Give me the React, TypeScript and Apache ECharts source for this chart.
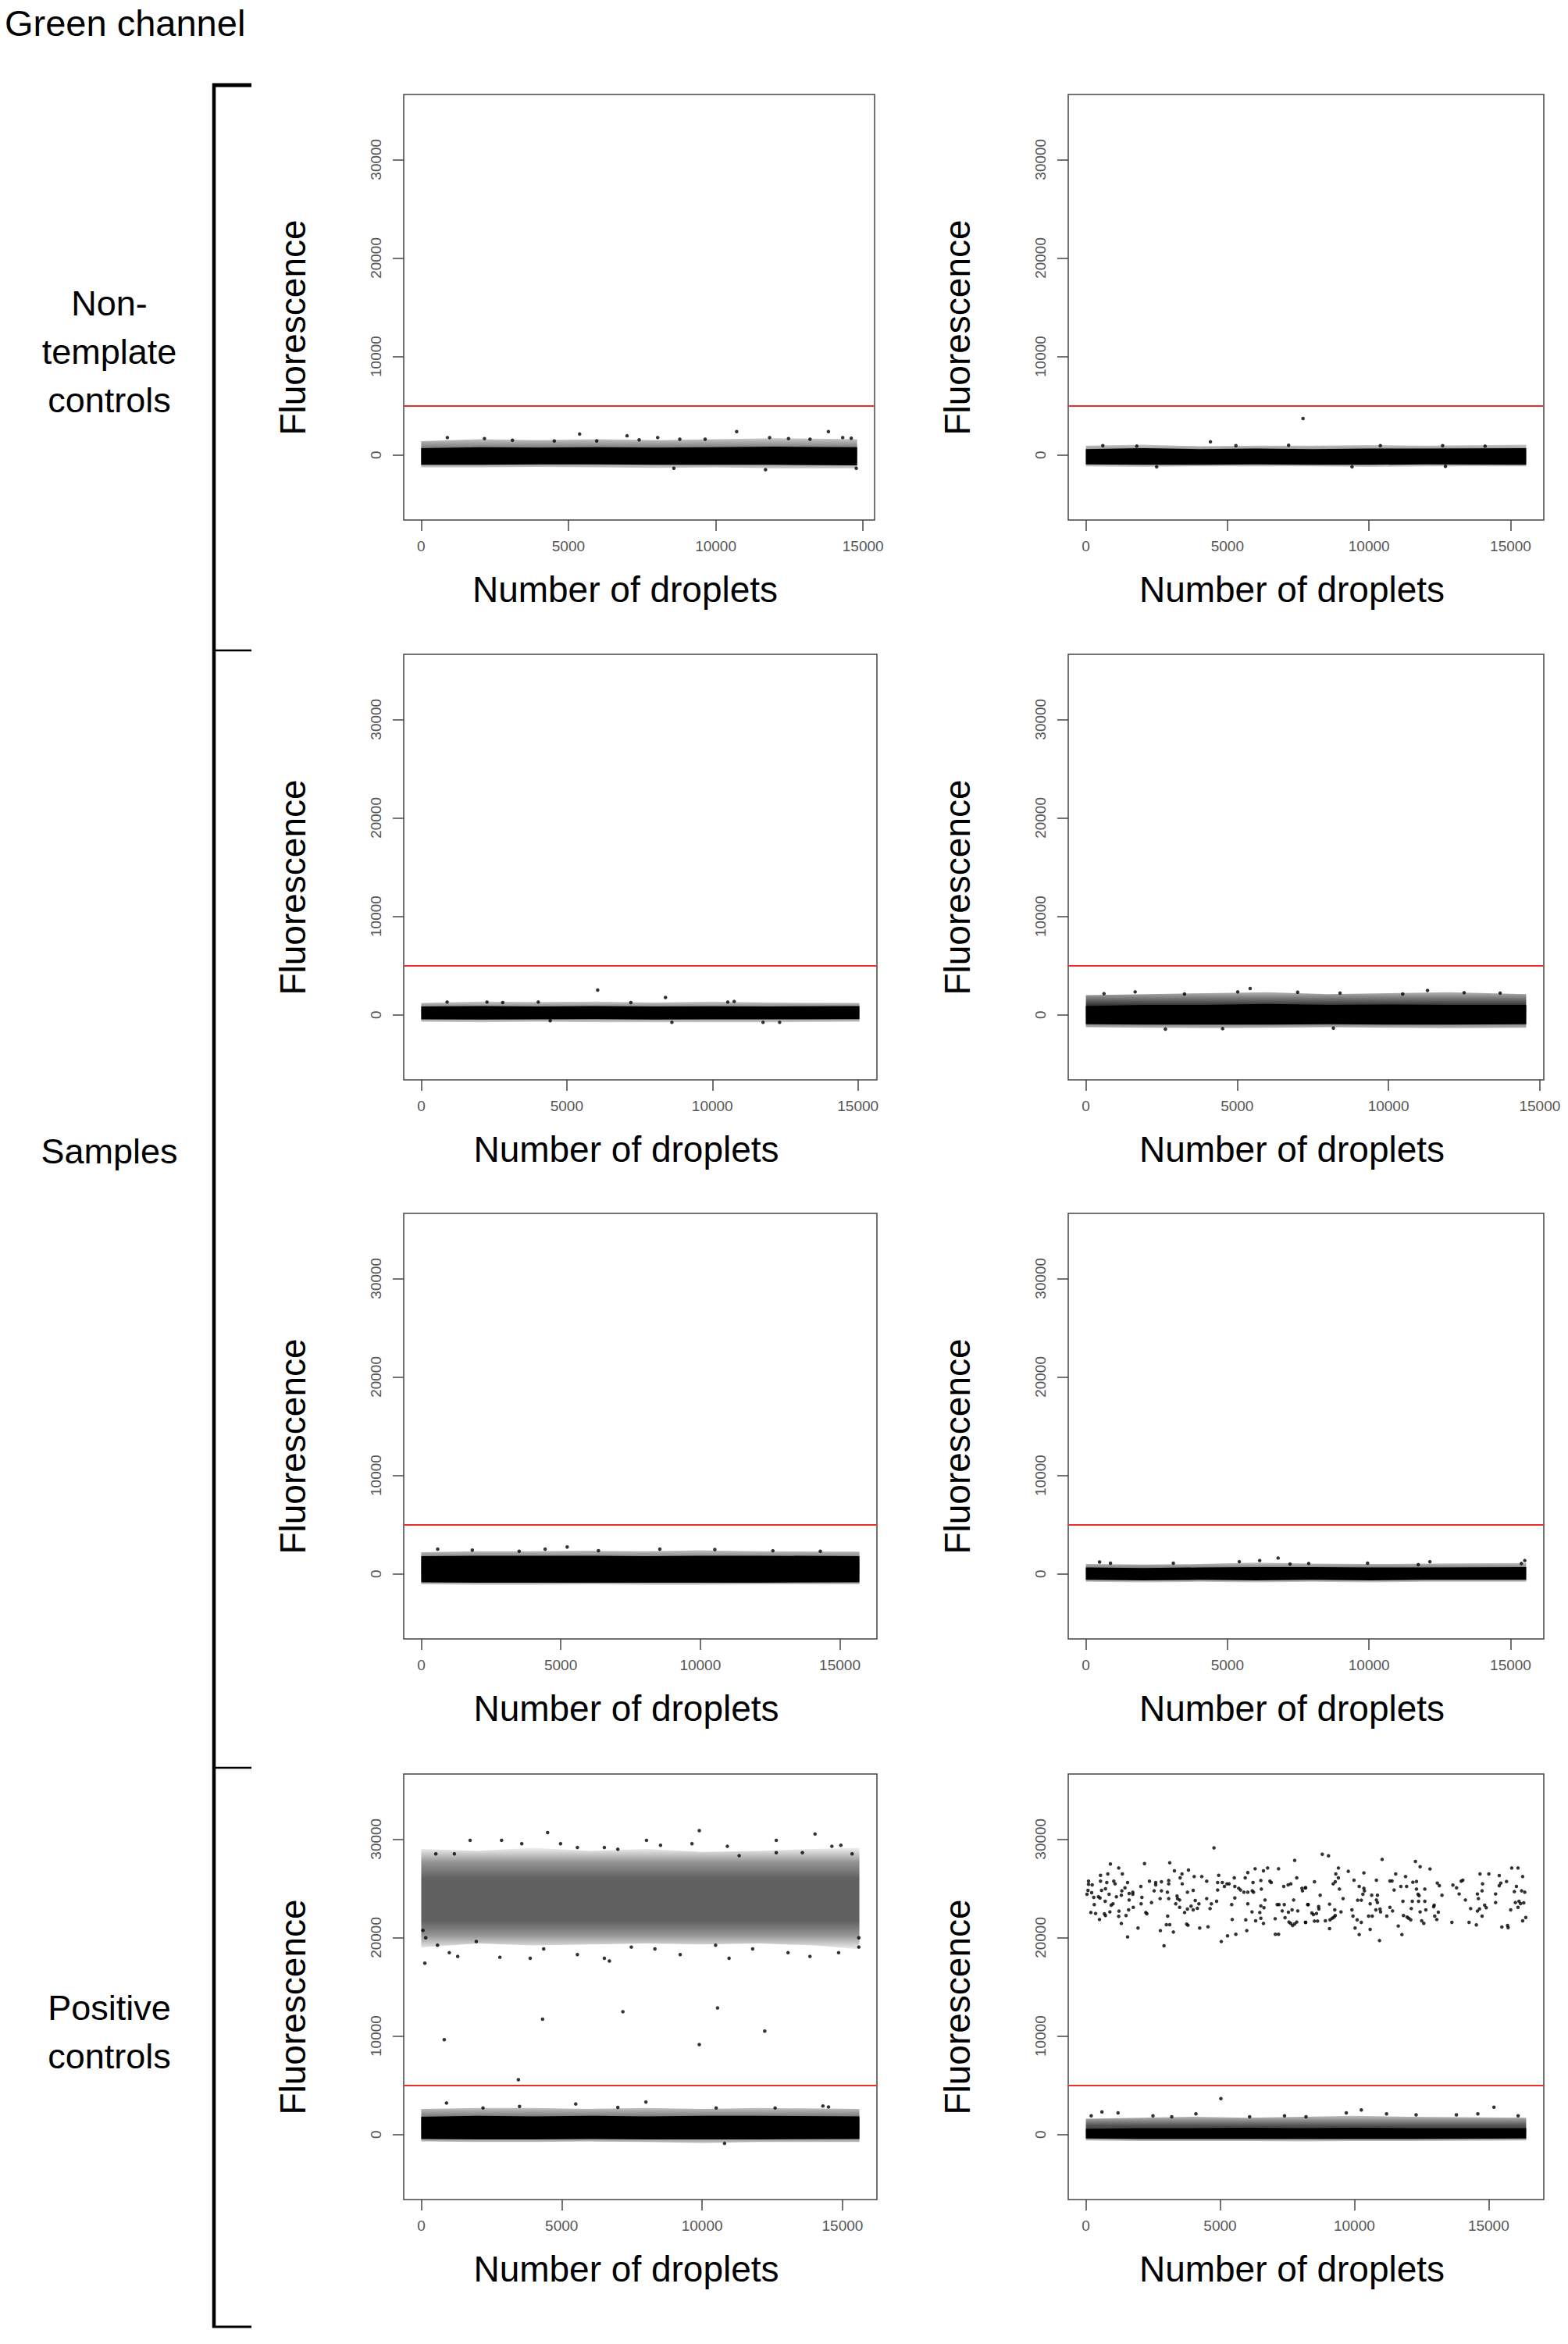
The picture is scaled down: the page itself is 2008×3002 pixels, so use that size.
import React, { useEffect, useRef } from "react";
import * as echarts from "echarts";

const FONT = "'Liberation Sans', Arial, Helvetica, sans-serif";

const THRESHOLD = 5000;
const Y_LIMITS = [-5000, 35000];
const X_TICKS = [0, 5000, 10000, 15000];
const Y_TICKS = [0, 10000, 20000, 30000];
const PANEL_DROPLETS = [14800, 15550, 15050, 14550, 15700, 15550, 15600, 16400];
const GROUP_LABELS = ["Non-\ntemplate\ncontrols", "Samples", "Positive\ncontrols"];
const TITLE = "Green channel";
const X_TITLE = "Number of droplets";
const Y_TITLE = "Fluorescence";

// ---------- Panel 1 (non-template control, left)
const p1X = [1, 2000, 4000, 6000, 8000, 10000, 12000, 14800];
const p1CoreLo = [-1000, -1000, -950, -950, -1000, -1000, -1000, -1050];
const p1CoreHi = [700, 800, 750, 800, 750, 800, 850, 800];
const p1HaloLo = [-1250, -1250, -1200, -1250, -1300, -1250, -1350, -1350];
const p1HaloHi = [1400, 1600, 1500, 1600, 1500, 1600, 1700, 1600];
const p1Points = [
  [5380, 2130], [6990, 1950], [10710, 2380], [13825, 2380], [8580, -1350], [11690, -1490], [14770, -1350],
  [890, 1770], [2150, 1670], [8030, 1770], [8780, 1600], [11830, 1770], [12470, 1670], [14310, 1770],
  [14600, 1700], [4520, 1420], [5960, 1420], [9640, 1600], [3100, 1500], [7400, 1550], [13200, 1600],
];

// ---------- Panel 2 (non-template control, right)
const p2X = [1, 2000, 4000, 6000, 8000, 10000, 12000, 15550];
const p2CoreLo = [-950, -1000, -1000, -950, -1000, -1000, -950, -1000];
const p2CoreHi = [600, 700, 600, 650, 600, 650, 650, 700];
const p2HaloLo = [-1150, -1200, -1150, -1150, -1150, -1200, -1150, -1150];
const p2HaloHi = [950, 1050, 900, 950, 950, 1000, 950, 1050];
const p2Points = [
  [7670, 3710], [4400, 1340], [7160, 990], [600, 950], [1800, 900], [5300, 950], [10400, 950], [12600, 950],
  [14100, 900], [2500, -1200], [9400, -1200], [12700, -1150],
];

// ---------- Panel 3 (sample, row 2 left)
const p3X = [1, 2000, 4000, 6000, 8000, 10000, 12000, 15050];
const p3CoreLo = [-450, -480, -450, -430, -470, -450, -460, -440];
const p3CoreHi = [850, 900, 850, 900, 850, 880, 850, 900];
const p3HaloLo = [-700, -750, -700, -750, -750, -750, -750, -700];
const p3HaloHi = [1200, 1350, 1300, 1350, 1250, 1350, 1250, 1200];
const p3Points = [
  [6060, 2515], [8390, 1760], [10750, 1360], [890, 1300], [2260, 1300], [4020, 1300], [10530, 1300],
  [4430, -600], [8610, -760], [11740, -760], [12310, -760], [2800, 1250], [7200, 1250],
];

// ---------- Panel 4 (sample, row 2 right)
const p4X = [1, 2000, 4000, 6000, 8000, 10000, 12000, 14550];
const p4CoreLo = [-950, -1000, -1000, -1000, -950, -1000, -1000, -950];
const p4CoreHi = [900, 1000, 1000, 1100, 1000, 1050, 1000, 1000];
const p4HaloLo = [-1250, -1300, -1350, -1300, -1250, -1300, -1350, -1300];
const p4HaloHi = [2000, 2100, 2200, 2300, 2100, 2200, 2300, 2100];
const p4Points = [
  [5430, 2670], [1630, 2330], [11290, 2480], [5020, 2330], [13690, 2210], [3260, 2120], [8400, 2210],
  [10470, 2120], [4520, -1400], [8180, -1350], [2630, -1450], [600, 2150], [7000, 2300], [12500, 2250],
];

// ---------- Panel 5 (sample, row 3 left)
const p5X = [1, 2000, 4000, 6000, 8000, 10000, 12000, 15700];
const p5CoreLo = [-850, -900, -900, -900, -900, -900, -900, -850];
const p5CoreHi = [1800, 1850, 1850, 1850, 1800, 1850, 1850, 1800];
const p5HaloLo = [-1050, -1100, -1100, -1050, -1100, -1100, -1050, -1050];
const p5HaloHi = [2200, 2300, 2300, 2350, 2300, 2400, 2300, 2250];
const p5Points = [
  [5230, 2730], [590, 2520], [4440, 2520], [6350, 2360], [10520, 2480], [8550, 2520], [1830, 2420],
  [3510, 2300], [12600, 2350], [14300, 2300],
];

// ---------- Panel 6 (sample, row 3 right)
const p6X = [1, 2000, 4000, 6000, 8000, 10000, 12000, 15550];
const p6CoreLo = [-600, -650, -600, -650, -600, -650, -600, -600];
const p6CoreHi = [650, 600, 650, 700, 700, 650, 650, 700];
const p6HaloLo = [-800, -850, -800, -850, -800, -850, -800, -800];
const p6HaloHi = [1000, 950, 1000, 1150, 1050, 1000, 1050, 1100];
const p6Points = [
  [6790, 1610], [6140, 1360], [5420, 1240], [485, 1210], [870, 1090], [3090, 1090], [15500, 1360],
  [12150, 1240], [9950, 1090], [11740, 940], [15380, 1060], [7870, 1060], [7210, 1000],
];

// ---------- Panel 7 (positive control, left)
const p7LowX = [1, 2000, 4000, 6000, 8000, 10000, 12000, 15600];
const p7CoreLo = [-450, -500, -500, -450, -500, -500, -500, -450];
const p7CoreHi = [1800, 1900, 1850, 1900, 1850, 1900, 1900, 1850];
const p7HaloLo = [-700, -750, -750, -700, -750, -850, -750, -750];
const p7HaloHi = [2600, 2700, 2700, 2600, 2700, 2600, 2700, 2600];
const p7UpX = [1, 2000, 4000, 6000, 8000, 10000, 12000, 14000, 15600];
const p7UpLo = [19000, 19400, 19200, 19300, 19400, 19300, 19400, 19200, 18800];
const p7UpHi = [29000, 28800, 29100, 28800, 29000, 28700, 28800, 29000, 29100];
const p7Points = [
  // upper positive cloud, outer droplets
  [4500, 30660], [9900, 30850], [14020, 30510], [4960, 29520], [9640, 29520], [1740, 29870], [2860, 29870],
  [8020, 29870], [12640, 29870], [3580, 29520], [8520, 29370], [14940, 29370], [14620, 29260], [10900, 29260],
  [5560, 29140], [6520, 29140], [7000, 28960], [520, 28500], [1180, 28500], [12640, 28610], [13570, 28610],
  [15340, 28500], [11320, 28310], [160, 19970], [60, 20730], [580, 19220], [1000, 18460], [1300, 18080],
  [130, 17400], [2800, 18000], [3880, 17890], [5560, 18270], [6520, 17890], [6700, 17620], [9220, 18270],
  [10960, 17890], [13060, 18460], [13840, 18080], [14860, 18460], [15580, 19030], [15580, 19970], [7480, 19030],
  [8320, 18840], [10480, 19220], [11800, 18840], [4360, 18840], [1960, 19600],
  // rain between clusters
  [820, 9630], [4320, 11710], [7180, 12470], [9900, 9130], [10550, 12850], [12230, 10500], [3460, 5570],
  // lower negative cloud, outer droplets
  [8000, 3300], [900, 3200], [5500, 3100], [14300, 2900], [14500, 2800], [3500, 2850], [2200, 2700],
  [10500, 2700], [12600, 2700], [7000, 2750], [10800, -900],
];

// ---------- Panel 8 (positive control, right)
const p8X = [1, 2000, 4000, 6000, 8000, 10000, 12000, 16400];
const p8CoreLo = [-400, -450, -450, -450, -450, -450, -450, -400];
const p8CoreHi = [600, 650, 650, 700, 650, 700, 650, 650];
const p8HaloLo = [-600, -650, -650, -650, -700, -650, -650, -600];
const p8HaloHi = [1600, 1700, 1800, 1700, 1800, 1900, 1800, 1700];
const p8LowPoints = [
  [5030, 3640], [15200, 2770], [10260, 2500], [1200, 2200], [600, 2300], [9700, 2200], [11200, 2100],
  [12300, 2000], [4100, 2100], [7400, 1900], [13800, 2000], [14600, 2100], [16100, 1900], [200, 1900],
  [2500, 1900], [3200, 1800], [6100, 1800], [8200, 1800],
];
const p8UpPoints = [
  [4773, 29100], [7778, 27830], [915, 27460], [2185, 27510], [3125, 27590], [1225, 27060], [3300, 26770],
  [3823, 26850], [6305, 26980], [6615, 26770], [6770, 27060], [7177, 26980],
  [547, 26320], [818, 26450], [1361, 26450], [3581, 26450], [4036, 26190], [4318, 26190], [4948, 26320],
  [6033, 26590], [5529, 26060], [7855, 26060],
  [101, 25715], [547, 25715], [780, 25580], [1041, 25715], [1555, 25580], [2369, 25715], [2602, 25580],
  [2815, 25660], [3087, 25790], [3513, 26060], [4502, 25715], [4909, 25580], [5083, 25580], [5258, 25450],
  [5335, 25450], [5936, 26060], [6227, 25580], [6518, 25790], [6857, 25715], [6906, 25580],
  [237, 25345], [101, 25400], [1090, 25450], [2049, 25190], [2602, 25345], [3087, 25450], [3590, 25450],
  [5161, 25190], [5549, 25190], [5694, 25000], [5762, 24820], [7371, 25190], [7536, 25345], [7633, 25450],
  [8049, 25000], [8185, 25050],
  [82, 24790], [586, 24790], [731, 24950], [1458, 25050], [1749, 24600], [1342, 24740], [2544, 24740],
  [2815, 24740], [3038, 24600], [3784, 24600], [3998, 24790], [4909, 24820], [5888, 24600], [6033, 24600],
  [6198, 24740], [6246, 24600], [6537, 24920], [8069, 24740],
  [43, 24390], [217, 24550], [295, 24080], [469, 24130], [528, 24020], [867, 24390], [1138, 24130],
  [1322, 24290], [1613, 24470], [1749, 24390], [2088, 24080], [2767, 23950], [3087, 23950], [3397, 24210],
  [3416, 23950], [3494, 23810], [4502, 23950], [5549, 24020], [6673, 23810], [7739, 23810],
  [721, 23680], [314, 23340], [944, 23280], [1012, 23420], [1613, 23810], [2059, 23420], [2447, 23550],
  [3348, 23420], [4075, 23760], [4211, 23420], [4676, 23420], [4870, 23680], [5432, 23340], [6033, 23420],
  [6518, 23210], [6634, 23020], [7129, 23340], [7196, 23340], [7390, 23340], [8282, 23340],
  [188, 22540], [363, 22440], [692, 22410], [731, 22230], [896, 22600], [1235, 22680], [1594, 22810],
  [1768, 23070], [2234, 22540], [2272, 22410], [3494, 23070], [3678, 22540], [3784, 22890], [3920, 23180],
  [3998, 22810], [4153, 22970], [4628, 22940], [6188, 22600], [6479, 22540], [7313, 22700], [7545, 22570],
  [7681, 22810], [7894, 22700],
  [508, 21830], [1225, 22150], [1497, 22230], [3048, 22170], [5452, 21830], [5956, 21800], [6325, 21700],
  [6518, 21960], [6615, 21430], [7051, 21910], [7419, 22020], [7565, 21570], [7633, 21430], [7701, 21220],
  [7778, 21380], [7855, 21570], [8185, 21540],
  [1322, 21430], [1943, 20960], [3000, 21300], [3125, 21300], [3755, 21360], [3804, 21250], [4240, 20960],
  [4550, 21090], [5994, 20700],
  [1555, 20060], [2776, 20700], [3261, 20560], [5277, 20170], [5587, 20330], [7060, 20330], [7177, 20330],
  [2912, 19160], [5045, 19590],
  [8806, 28460], [9038, 28300], [11035, 27930], [12276, 27720], [12450, 27190], [12818, 26960], [9406, 27060],
  [15862, 27060], [16095, 27060],
  [9775, 26720], [10356, 26560], [9310, 26450], [11539, 26450], [11907, 26190], [14680, 26450], [15009, 26450],
  [15397, 26300], [16269, 26190],
  [8515, 25660], [9406, 26060], [9290, 25660], [9213, 25450], [9988, 25820], [10822, 25820], [11326, 25740],
  [11403, 25740], [12179, 25610], [12314, 25690], [13090, 25530], [13167, 25270], [13671, 25320], [13981, 25720],
  [14040, 25820], [14776, 25450], [15455, 25530], [15397, 25270], [15668, 25690],
  [8175, 25050], [9445, 24920], [10182, 25190], [10356, 25000], [10376, 24740], [11481, 24820], [11733, 25190],
  [11946, 25190], [12314, 24920], [12625, 24920], [13807, 25050], [13904, 24420], [14757, 24740], [14583, 24420],
  [16037, 25190], [15959, 24660], [16230, 24740], [16347, 24600],
  [8728, 24290], [9581, 23950], [10318, 24390], [10647, 24290], [10860, 24290], [10124, 23790], [10259, 23790],
  [10822, 23810], [12373, 24390], [12411, 24260], [13264, 24290], [14621, 23950], [15261, 24420], [14137, 23810],
  [11810, 23680], [12159, 23680], [12392, 23680], [12625, 23680],
  [8263, 23340], [9077, 23390], [8670, 23150], [8680, 22910], [10589, 23420], [10860, 23550], [12974, 23280],
  [12954, 23130], [14854, 23280], [14912, 23020], [15261, 23550], [15998, 23550], [16133, 23680], [16191, 23440],
  [16308, 23520],
  [8418, 22490], [8476, 22330], [8592, 22440], [9271, 22810], [9503, 22600], [9910, 22810], [10802, 22810],
  [10957, 22890], [10977, 22600], [11326, 23070], [11423, 22700], [12121, 22940], [12450, 22600], [12663, 22810],
  [13128, 22570], [14331, 22940], [14583, 22680], [14660, 22910], [15823, 22810], [16095, 23070],
  [8185, 21540], [8515, 21670], [8631, 21670], [8922, 21700], [9096, 21800], [9174, 21960], [9242, 22070],
  [9290, 22230], [9949, 22170], [10104, 21800], [10259, 21540], [10531, 22170], [10667, 22170], [11209, 22170],
  [11830, 22230], [11965, 22070], [12024, 21960], [12101, 21800], [12508, 21700], [12586, 21440], [12993, 22170],
  [13070, 21830], [14757, 22170], [16269, 21700], [16385, 22040],
  [9077, 20910], [10027, 20960], [10589, 20830], [11636, 21170], [13633, 21540], [14273, 21540], [14544, 21280],
  [15494, 21070], [15707, 21220], [15727, 21010],
  [10182, 20300], [11772, 20300], [10938, 19690],
];

// ---------- layout (pixels)
const ROW_TOPS = [121, 838, 1554, 2272];
const GRID_H = 545;
const COL_LEFTS = [517, 1368];
const COL_WIDTHS = [606, 609];
const BRACKET_X = 274;
const BRACKET_TICKS = [109, 833, 2264, 2980];

type Layer = { x: number[]; lo: number[]; hi: number[]; fill: any };

// soft speckle fringe: darker near the dense core, fading outwards
const halo = (a: number) =>
  new echarts.graphic.LinearGradient(0, 0, 0, 1, [
    { offset: 0, color: `rgba(0,0,0,${(a * 0.35).toFixed(3)})` },
    { offset: 0.4, color: `rgba(0,0,0,${a})` },
    { offset: 0.6, color: `rgba(0,0,0,${a})` },
    { offset: 1, color: `rgba(0,0,0,${(a * 0.35).toFixed(3)})` },
  ]);

function buildPanels() {
  const upperCloud = new echarts.graphic.LinearGradient(0, 0, 0, 1, [
    { offset: 0, color: "rgba(0,0,0,0.06)" },
    { offset: 0.14, color: "rgba(0,0,0,0.42)" },
    { offset: 0.3, color: "rgba(0,0,0,0.62)" },
    { offset: 0.72, color: "rgba(0,0,0,0.62)" },
    { offset: 0.86, color: "rgba(0,0,0,0.42)" },
    { offset: 1, color: "rgba(0,0,0,0.06)" },
  ]);
  const panels: { n: number; layers: Layer[]; points: number[][] }[] = [
    { n: PANEL_DROPLETS[0], points: p1Points, layers: [
      { x: p1X, lo: p1HaloLo, hi: p1HaloHi, fill: halo(0.6) },
      { x: p1X, lo: p1CoreLo, hi: p1CoreHi, fill: "#000" } ] },
    { n: PANEL_DROPLETS[1], points: p2Points, layers: [
      { x: p2X, lo: p2HaloLo, hi: p2HaloHi, fill: halo(0.6) },
      { x: p2X, lo: p2CoreLo, hi: p2CoreHi, fill: "#000" } ] },
    { n: PANEL_DROPLETS[2], points: p3Points, layers: [
      { x: p3X, lo: p3HaloLo, hi: p3HaloHi, fill: halo(0.6) },
      { x: p3X, lo: p3CoreLo, hi: p3CoreHi, fill: "#000" } ] },
    { n: PANEL_DROPLETS[3], points: p4Points, layers: [
      { x: p4X, lo: p4HaloLo, hi: p4HaloHi, fill: halo(0.85) },
      { x: p4X, lo: p4CoreLo, hi: p4CoreHi, fill: "#000" } ] },
    { n: PANEL_DROPLETS[4], points: p5Points, layers: [
      { x: p5X, lo: p5HaloLo, hi: p5HaloHi, fill: halo(0.7) },
      { x: p5X, lo: p5CoreLo, hi: p5CoreHi, fill: "#000" } ] },
    { n: PANEL_DROPLETS[5], points: p6Points, layers: [
      { x: p6X, lo: p6HaloLo, hi: p6HaloHi, fill: halo(0.65) },
      { x: p6X, lo: p6CoreLo, hi: p6CoreHi, fill: "#000" } ] },
    { n: PANEL_DROPLETS[6], points: p7Points, layers: [
      { x: p7LowX, lo: p7HaloLo, hi: p7HaloHi, fill: halo(0.7) },
      { x: p7LowX, lo: p7CoreLo, hi: p7CoreHi, fill: "#000" },
      { x: p7UpX, lo: p7UpLo, hi: p7UpHi, fill: upperCloud } ] },
    { n: PANEL_DROPLETS[7], points: p8LowPoints.concat(p8UpPoints), layers: [
      { x: p8X, lo: p8HaloLo, hi: p8HaloHi, fill: halo(0.7) },
      { x: p8X, lo: p8CoreLo, hi: p8CoreHi, fill: "#000" } ] },
  ];
  return panels;
}

const plainNumber = (v: number) => String(Math.round(v));

function buildOption() {
  const panels = buildPanels();
  const ySpan = Y_LIMITS[1] - Y_LIMITS[0];
  const yMin = Y_LIMITS[0] - 0.04 * ySpan;
  const yMax = Y_LIMITS[1] + 0.04 * ySpan;

  const grids: any[] = [];
  const xAxes: any[] = [];
  const yAxes: any[] = [];
  const series: any[] = [];
  const graphics: any[] = [];

  panels.forEach((p, i) => {
    const row = Math.floor(i / 2);
    const col = i % 2;
    const left = COL_LEFTS[col];
    const top = ROW_TOPS[row];
    const width = col === 0 && row === 0 ? 603 : COL_WIDTHS[col];
    grids.push({ left, top, width, height: GRID_H, show: true, borderColor: "#444", borderWidth: 1.5, backgroundColor: "transparent" });
    xAxes.push({
      type: "value", gridIndex: i, position: "bottom",
      min: 1 - 0.04 * (p.n - 1), max: p.n + 0.04 * (p.n - 1),
      axisLine: { show: false, onZero: false },
      axisTick: { show: true, customValues: X_TICKS, length: 14, lineStyle: { color: "#444", width: 1.5 } },
      axisLabel: { show: true, customValues: X_TICKS, formatter: plainNumber, fontSize: 19, color: "#555", margin: 24, fontFamily: FONT },
      splitLine: { show: false },
    });
    yAxes.push({
      type: "value", gridIndex: i, position: "left", min: yMin, max: yMax,
      axisLine: { show: false, onZero: false },
      axisTick: { show: true, customValues: Y_TICKS, length: 14, lineStyle: { color: "#444", width: 1.5 } },
      axisLabel: { show: true, customValues: Y_TICKS, formatter: plainNumber, fontSize: 19, color: "#555", margin: 26, rotate: 90, fontFamily: FONT },
      splitLine: { show: false },
    });
    const layers = p.layers;
    series.push({
      type: "custom", xAxisIndex: i, yAxisIndex: i, silent: true, clip: true, z: 2,
      data: layers.map((l, k) => [l.x[0], l.lo[0], k]),
      renderItem: (params: any, api: any) => {
        const l = layers[params.dataIndex];
        const upper = l.x.map((x, j) => api.coord([x, l.hi[j]]));
        const lower = l.x.map((x, j) => api.coord([x, l.lo[j]])).reverse();
        return { type: "polygon", shape: { points: upper.concat(lower) }, style: { fill: l.fill } };
      },
    });
    series.push({
      type: "scatter", xAxisIndex: i, yAxisIndex: i, silent: true, z: 3,
      data: p.points, symbol: "circle", symbolSize: 4.5, itemStyle: { color: "#000" },
      markLine: {
        silent: true, symbol: ["none", "none"], label: { show: false }, animation: false,
        lineStyle: { color: "#e8302a", width: 2, type: "solid" },
        data: [{ yAxis: THRESHOLD }],
      },
    });
    graphics.push({
      type: "text", x: left - 142, y: top + GRID_H / 2 + 26, rotation: Math.PI / 2,
      style: { text: Y_TITLE, fontSize: 46, fontFamily: FONT, fill: "#000", align: "center", verticalAlign: "middle" },
    });
    graphics.push({
      type: "text", x: left + width / 2 - 18, y: top + GRID_H + 89,
      style: { text: X_TITLE, fontSize: 46, fontFamily: FONT, fill: "#000", align: "center", verticalAlign: "middle" },
    });
  });

  graphics.push({
    type: "text", x: 6, y: 29,
    style: { text: TITLE, fontSize: 47, fontFamily: FONT, fill: "#000", align: "left", verticalAlign: "middle" },
  });
  const groupY = [450, 1474, 2602];
  GROUP_LABELS.forEach((t, k) => {
    graphics.push({
      type: "text", x: 140, y: groupY[k],
      style: { text: t, fontSize: 45, lineHeight: 62, fontFamily: FONT, fill: "#000", align: "center", verticalAlign: "middle" },
    });
  });
  graphics.push({ type: "line", shape: { x1: BRACKET_X, y1: BRACKET_TICKS[0] - 2, x2: BRACKET_X, y2: BRACKET_TICKS[3] + 1 }, style: { stroke: "#000", lineWidth: 4.5 } });
  const tickW = [5, 2.5, 2.5, 3];
  BRACKET_TICKS.forEach((y, k) => {
    graphics.push({ type: "line", shape: { x1: BRACKET_X - 2, y1: y, x2: 322, y2: y }, style: { stroke: "#000", lineWidth: tickW[k] } });
  });

  return {
    animation: false,
    backgroundColor: "#fff",
    grid: grids,
    xAxis: xAxes,
    yAxis: yAxes,
    series,
    graphic: { elements: graphics },
  };
}

export default function App() {
  const ref = useRef<HTMLDivElement>(null);
  useEffect(() => {
    if (!ref.current) return;
    const chart = echarts.init(ref.current, undefined, { renderer: "svg" });
    chart.setOption(buildOption());
    return () => chart.dispose();
  }, []);
  return <div ref={ref} style={{ position: "absolute", left: 0, top: 0, width: 2008, height: 3002, background: "#fff" }} />;
}
